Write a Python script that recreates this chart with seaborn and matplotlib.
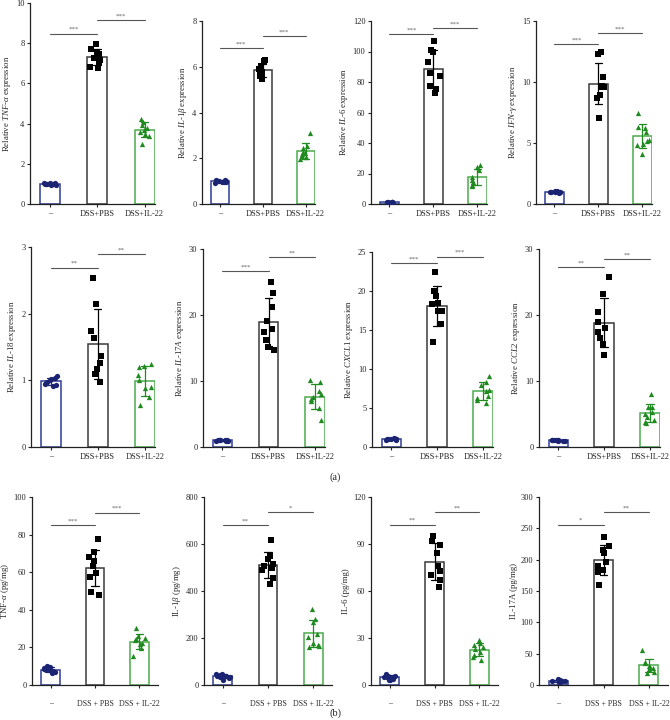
import numpy as np
import pandas as pd
import matplotlib
matplotlib.use("Agg")
import matplotlib.pyplot as plt
import matplotlib.transforms as mtransforms
import seaborn as sns

# ---------------------------------------------------------
# Data
# ---------------------------------------------------------
groups_rel = ["–", "DSS+PBS", "DSS+IL-22"]
groups_prot = ["–", "DSS + PBS", "DSS + IL-22"]

# (a) relative mRNA expression: [control, DSS+PBS, DSS+IL-22]
tnf_rel = [[0.95, 0.98, 1.0, 1.02, 1.05, 0.97, 1.01, 0.99, 1.03],
           [7.95, 7.7, 7.58, 7.45, 7.25, 7.16, 7.08, 6.83, 6.78],
           [4.25, 4.1, 3.95, 3.8, 3.7, 3.6, 3.5, 3.4, 3.0]]
il1b_rel = [[1.05, 1.0, 0.98, 1.02, 0.95, 1.03, 0.97, 1.0, 0.92],
            [6.28, 6.25, 6.02, 5.88, 5.77, 5.73, 5.63, 5.59, 5.45],
            [3.11, 2.53, 2.43, 2.28, 2.21, 2.18, 2.09, 2.04, 1.96]]
il6_rel = [[0.8, 1.0, 1.2, 0.9, 1.1, 1.0, 0.95, 1.05, 1.0],
           [106.9, 101.2, 99.7, 93.2, 86.0, 83.8, 77.2, 75.7, 72.9],
           [25.5, 24.0, 22.3, 17.5, 15.7, 14.6, 13.5, 12.5, 11.8]]
ifng_rel = [[1.05, 1.0, 0.98, 1.1, 0.95, 1.02, 0.97, 1.0, 0.93],
            [12.46, 12.33, 10.42, 9.65, 9.6, 9.55, 8.97, 8.7, 7.09],
            [7.42, 6.33, 6.25, 5.92, 5.24, 5.18, 4.91, 4.85, 4.09]]
il18_rel = [[1.06, 1.04, 1.02, 1.0, 0.98, 0.96, 0.95, 0.93, 0.92],
            [2.54, 2.14, 1.74, 1.63, 1.36, 1.26, 1.17, 1.09, 0.98],
            [1.25, 1.22, 1.2, 1.08, 1.0, 0.9, 0.88, 0.75, 0.63]]
il17a_rel = [[1.1, 1.0, 0.9, 1.05, 0.95, 1.0, 1.08, 0.92, 1.0],
             [25.05, 23.4, 21.2, 19.1, 17.9, 17.5, 16.2, 15.2, 14.7],
             [10.15, 9.9, 8.5, 8.0, 7.6, 7.2, 7.0, 5.9, 4.1]]
cxcl1_rel = [[1.1, 1.05, 1.0, 0.95, 1.0, 0.9, 1.08, 0.97, 1.02],
             [22.4, 20.0, 19.4, 18.5, 18.3, 17.4, 17.4, 15.8, 13.5],
             [9.06, 8.33, 7.9, 7.35, 7.14, 6.5, 6.28, 5.98, 5.64]]
ccl2_rel = [[1.1, 1.05, 1.0, 0.95, 1.0, 0.9, 1.08, 0.97, 1.02],
            [25.7, 23.2, 20.4, 18.9, 18.1, 17.4, 16.5, 15.6, 13.9],
            [8.0, 6.1, 6.0, 5.35, 4.95, 4.6, 4.1, 3.84, 3.6]]

# (b) protein levels (pg/mg)
tnf_prot = [[10.0, 9.5, 9.0, 8.5, 8.0, 8.0, 7.5, 7.0, 6.5],
            [77.5, 71.0, 68.0, 66.0, 63.5, 59.5, 57.5, 49.5, 48.0],
            [30.4, 26.0, 24.8, 24.4, 23.9, 22.1, 21.6, 19.5, 15.4]]
il1b_prot = [[48, 45, 42, 40, 38, 35, 32, 28, 20],
             [619, 548, 535, 513, 507, 496, 489, 457, 428],
             [323, 282, 270, 218, 205, 178, 172, 165, 160]]
il6_prot = [[7.0, 6.0, 5.5, 5.0, 5.0, 4.5, 4.0, 3.5, 3.0],
            [95, 92, 89.5, 84, 76, 72.5, 70, 67, 62.5],
            [28.7, 26.5, 25.5, 24.0, 22.9, 21.2, 19.1, 18.1, 15.9]]
il17a_prot = [[9, 8, 7, 6.5, 6, 5.5, 5, 4.5, 4],
              [236, 222, 215, 211, 196, 190, 183, 180, 160],
              [55.8, 37.2, 34.5, 30.8, 29.2, 27.6, 25.5, 21.2, 19.6]]

ylabels = [
    "Relative $\\mathit{TNF}$-$\\mathit{α}$ expression",
    "Relative $\\mathit{IL}$-$\\mathit{1β}$ expression",
    "Relative $\\mathit{IL}$-$\\mathit{6}$ expression",
    "Relative $\\mathit{IFN}$-$\\mathit{γ}$ expression",
    "Relative $\\mathit{IL}$-$\\mathit{18}$ expression",
    "Relative $\\mathit{IL}$-$\\mathit{17A}$ expression",
    "Relative $\\mathit{CXCL1}$ expression",
    "Relative $\\mathit{CCL2}$ expression",
    "TNF-$\\mathit{α}$ (pg/mg)",
    "IL-1$\\mathit{β}$ (pg/mg)",
    "IL-6 (pg/mg)",
    "IL-17A (pg/mg)",
]
yticks = [
    [0, 2, 4, 6, 8, 10], [0, 2, 4, 6, 8], [0, 20, 40, 60, 80, 100, 120], [0, 5, 10, 15],
    [0, 1, 2, 3], [0, 10, 20, 30], [0, 5, 10, 15, 20, 25], [0, 10, 20, 30],
    [0, 20, 40, 60, 80, 100], [0, 200, 400, 600, 800], [0, 30, 60, 90, 120],
    [0, 50, 100, 150, 200, 250, 300],
]
stars = [
    ("***", "***"), ("***", "***"), ("***", "***"), ("***", "***"),
    ("**", "**"), ("***", "**"), ("***", "***"), ("**", "**"),
    ("***", "***"), ("**", "*"), ("**", "**"), ("*", "**"),
]
datasets = [tnf_rel, il1b_rel, il6_rel, ifng_rel, il18_rel, il17a_rel, cxcl1_rel, ccl2_rel,
            tnf_prot, il1b_prot, il6_prot, il17a_prot]

# ---------------------------------------------------------
# Styling / layout
# ---------------------------------------------------------
edge_colors = ["#2e3d94", "#3a3a3a", "#4cab4c"]
point_colors = ["#1b2473", "#000000", "#1f8a1f"]
markers = ["o", "s", "^"]

# comparison line heights, as fraction of the axis height
sig_heights = [
    (0.847, 0.915), (0.85, 0.92), (0.93, 0.96), (0.873, 0.936),
    (0.897, 0.963), (0.89, 0.96), (0.944, 0.976), (0.91, 0.947),
    (0.85, 0.917), (0.85, 0.918), (0.853, 0.92), (0.853, 0.92),
]
# axes boxes in pixels: (left, right, y of zero, y of top)
boxes = [
    (30, 155, 204, 3), (202, 315, 204, 21), (371, 487, 204, 21), (536, 652, 204, 21),
    (31, 155, 447, 247), (203, 325, 447, 249), (372, 493, 447, 252), (539, 660, 447, 249),
    (32, 158, 685, 497), (204, 332, 685, 497), (371, 498, 685, 497), (539, 668, 685, 497),
]

sns.set_theme(style="ticks")
plt.rcParams["font.family"] = ["Liberation Serif", "DejaVu Serif"]
plt.rcParams["mathtext.fontset"] = "custom"
plt.rcParams["mathtext.rm"] = "Liberation Serif"
plt.rcParams["mathtext.it"] = "Liberation Serif:italic"
plt.rcParams["mathtext.bf"] = "Liberation Serif:bold"

W, H = 670, 720
fig = plt.figure(figsize=(W / 100, H / 100), dpi=100)
np.random.seed(3)

for k, data in enumerate(datasets):
    left, right, y0, ytop = boxes[k]
    ax = fig.add_axes([left / W, 1 - y0 / H, (right - left) / W, (y0 - ytop) / H])
    order = groups_rel if k < 8 else groups_prot

    for g, vals in enumerate(data):
        df = pd.DataFrame({"group": [order[g]] * len(vals), "value": vals})
        sns.barplot(
            data=df, x="group", y="value", order=order, ax=ax,
            color="white", edgecolor=edge_colors[g], linewidth=1.1, width=0.42,
            errorbar="sd", capsize=0.16, saturation=1,
            err_kws={"color": point_colors[g], "linewidth": 0.9},
        )
        sns.stripplot(
            data=df, x="group", y="value", order=order, ax=ax,
            color=point_colors[g], marker=markers[g], size=3.8, jitter=0.15,
            linewidth=0, zorder=4,
        )

    ymax = yticks[k][-1]
    ax.set_ylim(0, ymax)
    if k < 8:
        ax.set_xlim(-0.42, 2.22)
    else:
        ax.set_xlim(-0.42, 2.42)
    ax.set_yticks(yticks[k])
    ax.set_xlabel("")
    ax.set_ylabel(ylabels[k], fontsize=6.3, labelpad=2)
    ax.tick_params(axis="both", labelsize=6, length=2.5, width=0.8, pad=1.5, color="#222")
    if k >= 8:
        ax.tick_params(axis="x", labelsize=5.7, pad=8)
    for side in ["top", "right"]:
        ax.spines[side].set_visible(False)
    for side in ["left", "bottom"]:
        ax.spines[side].set_linewidth(0.9)
        ax.spines[side].set_color("#222")

    # significance lines
    trans = mtransforms.blended_transform_factory(ax.transData, ax.transAxes)
    for (x1, x2), h, s in zip([(0, 1), (1, 2)], sig_heights[k], stars[k]):
        ax.plot([x1, x2], [h, h], color="#555555", linewidth=0.8, transform=trans, clip_on=False)
        ax.text((x1 + x2) / 2, h + 0.008, s, ha="center", va="bottom", fontsize=5,
                color="#666666", transform=trans)

fig.text(335 / W, 1 - 477 / H, "(a)", ha="center", va="center", fontsize=7.5)
fig.text(335 / W, 1 - 713 / H, "(b)", ha="center", va="center", fontsize=7.5)

fig.savefig("out.png", dpi=100)
